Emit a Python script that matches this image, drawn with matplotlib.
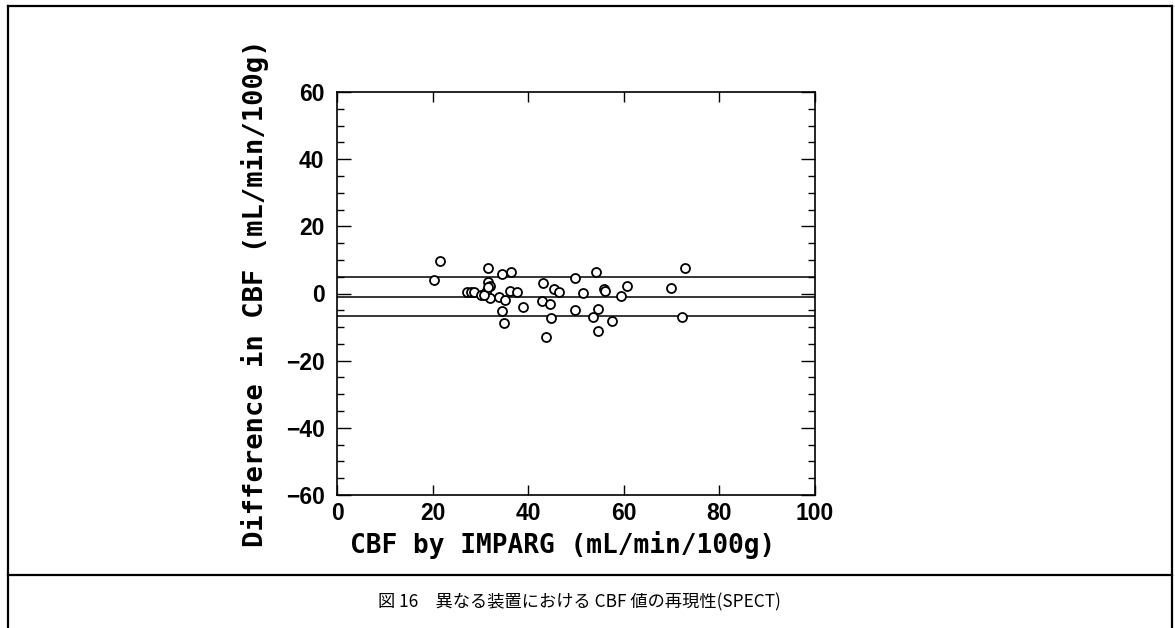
import matplotlib
matplotlib.use("Agg")
import matplotlib.pyplot as plt
from matplotlib.lines import Line2D
from matplotlib.ticker import MultipleLocator

# Mean CBF by IMPARG (x) vs. difference between devices (y)
cbf_mean = [21.5, 20.2, 31.5, 34.5, 36.5, 27.3, 28.0, 28.7, 31.5, 32.0,
            30.1, 31.1, 32.0, 33.9, 35.1, 36.2, 37.7, 34.6, 34.9, 39.0,
            43.2, 45.3, 42.8, 44.6, 44.8, 43.7, 46.4, 49.7, 54.2, 72.7,
            51.4, 55.9, 56.1, 60.6, 59.4, 69.9, 49.7, 54.5, 53.6, 57.5,
            54.7, 72.2, 30.8, 31.5]
cbf_diff = [9.6, 4.0, 7.7, 5.7, 6.3, 0.5, 0.5, 0.5, 3.3, 2.2,
            -0.3, 0.4, -1.2, -0.9, -1.9, 0.8, 0.3, -5.2, -8.9, -4.1,
            3.0, 1.3, -2.2, -3.2, -7.4, -12.9, 0.3, 4.5, 6.4, 7.7,
            0.2, 1.3, 0.7, 2.2, -0.6, 1.7, -5.0, -4.6, -6.9, -8.1,
            -11.1, -6.9, -0.4, 1.8]

# mean difference and limits of agreement
mean_diff = -0.9
upper_loa = 4.9
lower_loa = -6.6

x_ticks = [0, 20, 40, 60, 80, 100]
y_ticks = [-60, -40, -20, 0, 20, 40, 60]

fig = plt.figure(figsize=(11.75, 6.28), dpi=100)
ax = fig.add_axes([337 / 1175, 1 - 495 / 628, 478 / 1175, 403 / 628])

ax.scatter(cbf_mean, cbf_diff, s=42, facecolors="white", edgecolors="black",
           linewidths=1.3, zorder=3)
for level in (upper_loa, mean_diff, lower_loa):
    ax.axhline(level, color="black", lw=1.1, zorder=2)

ax.set_xlim(0, 100)
ax.set_ylim(-60, 60)
ax.set_xticks(x_ticks)
ax.set_yticks(y_ticks)
ax.yaxis.set_minor_locator(MultipleLocator(5))

for s in ax.spines.values():
    s.set_linewidth(1.2)
ax.tick_params(which="both", direction="in", top=True, right=True, width=1.0)
ax.tick_params(axis="y", which="major", length=10, pad=9)
ax.tick_params(axis="y", which="minor", length=5)
ax.tick_params(axis="x", which="major", length=7, pad=5)
for lab in ax.get_xticklabels() + ax.get_yticklabels():
    lab.set_fontfamily("Liberation Sans")
    lab.set_fontweight("bold")
    lab.set_fontsize(16.5)

ax.set_xlabel("CBF by IMPARG (mL/min/100g)", family="DejaVu Sans Mono",
              fontsize=18.8, fontweight="bold")
ax.xaxis.set_label_coords(0.473, -0.089)
ax.set_ylabel("Difference in CBF (mL/min/100g)", family="DejaVu Sans Mono",
              fontsize=19.5, fontweight="bold", labelpad=12)

# page frame and caption divider
frame_kw = dict(transform=fig.transFigure, color="black", lw=1.6)
fig.add_artist(Line2D([8 / 1175, 8 / 1175], [0, 1 - 6 / 628], **frame_kw))
fig.add_artist(Line2D([1172 / 1175, 1172 / 1175], [0, 1 - 6 / 628], **frame_kw))
fig.add_artist(Line2D([8 / 1175, 1172 / 1175], [1 - 6 / 628, 1 - 6 / 628], **frame_kw))
fig.add_artist(Line2D([8 / 1175, 1172 / 1175], [1 - 575 / 628, 1 - 575 / 628], **frame_kw))

fig.text(579 / 1175, 1 - 602 / 628, "図 16　異なる装置における CBF 値の再現性(SPECT)",
         family=["Noto Sans CJK JP", "DejaVu Sans"], fontsize=12.4,
         ha="center", va="center")

fig.savefig("out.png", dpi=100)
